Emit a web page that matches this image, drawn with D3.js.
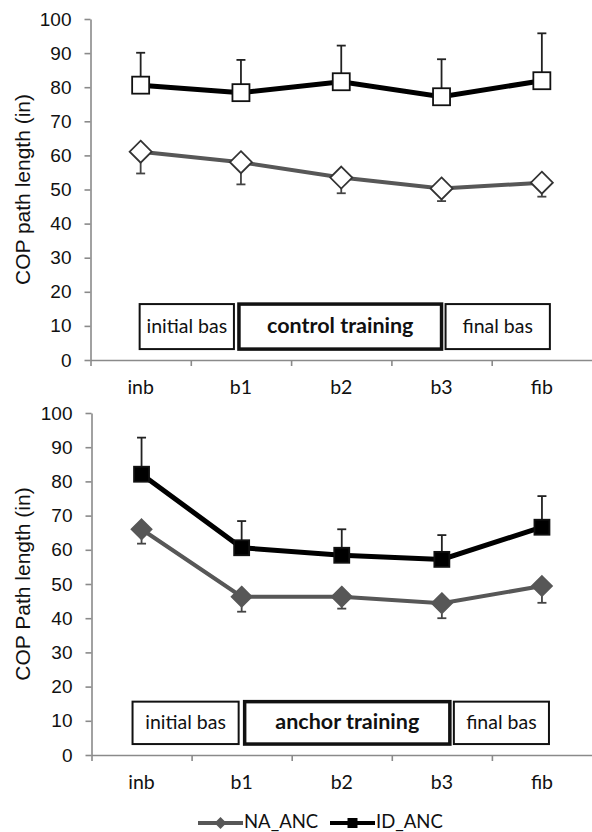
<!DOCTYPE html>
<html>
<head>
<meta charset="utf-8">
<script src="https://cdn.jsdelivr.net/npm/d3@7"></script>
<style>
  html, body { margin: 0; padding: 0; background: #fff; }
  svg { display: block; }
</style>
</head>
<body>
<div id="chart"></div>
<script>
// --- Données
const categories = ["inb", "b1", "b2", "b3", "fib"];
const yTicks = [0, 10, 20, 30, 40, 50, 60, 70, 80, 90, 100];

// panneau du haut : control training
const controlID = [80.6, 78.4, 81.6, 77.2, 81.9];
const controlIDErr = [9.5, 9.6, 10.6, 11.0, 13.9];
const controlNA = [61.1, 58.0, 53.5, 50.3, 52.0];
const controlNAErr = [6.4, 6.5, 4.6, 3.7, 4.1];
const controlPhases = ["initial bas", "control training", "final bas"];

// panneau du bas : anchor training
const anchorID = [82.1, 60.6, 58.4, 57.2, 66.6];
const anchorIDErr = [10.7, 7.8, 7.6, 7.1, 9.1];
const anchorNA = [66.0, 46.3, 46.3, 44.4, 49.4];
const anchorNAErr = [4.2, 4.4, 3.5, 4.4, 4.9];
const anchorPhases = ["initial bas", "anchor training", "final bas"];

const seriesNames = ["NA_ANC", "ID_ANC"];

const W = 592, H = 832;
const labelFont = "Lato, 'Open Sans', sans-serif";
const axisFont = "'Liberation Sans', Arial, sans-serif";
const grayLine = "#575757";

const svg = d3.select("#chart").append("svg")
  .attr("width", W)
  .attr("height", H);

// --- Dessin d'un panneau
function drawPanel(opts) {
  const g = svg.append("g");

  const x = d3.scaleBand().domain(categories).range([opts.left, W]);
  // échelle continue en "unités de catégorie" pour les cadres et graduations
  const xu = d3.scaleLinear().domain([0, categories.length]).range([opts.left, W]);
  const y = d3.scaleLinear().domain([0, 100]).range([opts.bottom, opts.top]);
  const cx = (c) => x(c) + x.bandwidth() / 2;

  // Axe Y
  const yAxis = g.append("g")
    .attr("transform", `translate(${opts.left},0)`)
    .call(d3.axisLeft(y).tickValues(yTicks).tickSize(6).tickPadding(13).tickSizeOuter(0));
  yAxis.select(".domain").attr("stroke", "#8a8a8a").attr("stroke-width", 1.6);
  yAxis.selectAll(".tick line").attr("stroke", "#8a8a8a").attr("stroke-width", 1.6);
  yAxis.selectAll(".tick text")
    .attr("font-family", axisFont)
    .attr("font-size", 19)
    .attr("fill", "#111");

  // Axe X (graduations aux limites des catégories)
  const xAxis = g.append("g")
    .attr("transform", `translate(0,${opts.bottom})`)
    .call(d3.axisBottom(xu).tickValues(d3.range(0, categories.length)).tickSize(6).tickSizeOuter(0).tickFormat(""));
  xAxis.select(".domain").attr("stroke", "#8a8a8a").attr("stroke-width", 1.6);
  xAxis.selectAll(".tick line").attr("stroke", "#8a8a8a").attr("stroke-width", 1.6);

  g.selectAll(".cat")
    .data(categories)
    .join("text")
    .attr("x", cx)
    .attr("y", opts.bottom + 34)
    .attr("text-anchor", "middle")
    .attr("font-family", labelFont)
    .attr("font-size", 19.5)
    .attr("fill", "#111")
    .text((d) => d);

  // Titre de l'axe Y
  g.append("text")
    .attr("transform", `translate(30,${(opts.top + opts.bottom) / 2}) rotate(-90)`)
    .attr("text-anchor", "middle")
    .attr("font-family", axisFont)
    .attr("font-size", 21)
    .attr("fill", "#111")
    .text(opts.title);

  // Cadres des phases
  const boxes = g.selectAll(".phase")
    .data(opts.phases.map((label, i) => ({ label, span: opts.spans[i], bold: i === 1 })))
    .join("g");
  boxes.append("rect")
    .attr("x", (d) => xu(d.span[0]))
    .attr("width", (d) => xu(d.span[1]) - xu(d.span[0]))
    .attr("y", y(opts.boxY[1]))
    .attr("height", y(opts.boxY[0]) - y(opts.boxY[1]))
    .attr("fill", "#fff")
    .attr("stroke", "#111")
    .attr("stroke-width", (d) => (d.bold ? 3.5 : 2));
  boxes.append("text")
    .attr("x", (d) => (xu(d.span[0]) + xu(d.span[1])) / 2)
    .attr("y", (y(opts.boxY[0]) + y(opts.boxY[1])) / 2 + 6.5)
    .attr("text-anchor", "middle")
    .attr("font-family", labelFont)
    .attr("font-size", (d) => (d.bold ? 21.5 : 19.5))
    .attr("font-weight", (d) => (d.bold ? "bold" : "normal"))
    .attr("fill", "#111")
    .text((d) => d.label);

  const line = d3.line().x((d) => cx(d.c)).y((d) => y(d.v));
  const rows = (vals, errs) => categories.map((c, i) => ({ c, v: vals[i], e: errs[i] }));
  const na = rows(opts.na, opts.naErr);
  const id = rows(opts.id, opts.idErr);

  // Barres d'erreur : ID vers le haut, NA vers le bas
  const errBars = (data, dir, color) => {
    const eg = g.append("g").attr("stroke", color).attr("stroke-width", 1.8);
    eg.selectAll("line.v").data(data).join("line")
      .attr("x1", (d) => cx(d.c)).attr("x2", (d) => cx(d.c))
      .attr("y1", (d) => y(d.v)).attr("y2", (d) => y(d.v + dir * d.e));
    eg.selectAll("line.cap").data(data).join("line")
      .attr("x1", (d) => cx(d.c) - 4.5).attr("x2", (d) => cx(d.c) + 4.5)
      .attr("y1", (d) => y(d.v + dir * d.e)).attr("y2", (d) => y(d.v + dir * d.e));
  };
  errBars(id, 1, "#222");
  errBars(na, -1, "#444");

  // Lignes
  g.append("path").datum(na)
    .attr("fill", "none").attr("stroke", grayLine).attr("stroke-width", 4)
    .attr("d", line);
  g.append("path").datum(id)
    .attr("fill", "none").attr("stroke", "#000").attr("stroke-width", 5)
    .attr("d", line);

  // Marqueurs
  const ds = opts.diamond;
  g.selectAll(".dia").data(na).join("path")
    .attr("transform", (d) => `translate(${cx(d.c)},${y(d.v)})`)
    .attr("d", `M0,${-ds}L${ds},0L0,${ds}L${-ds},0Z`)
    .attr("fill", opts.filled ? grayLine : "#fff")
    .attr("stroke", opts.filled ? grayLine : "#333")
    .attr("stroke-width", 1.8);
  const sq = opts.square;
  g.selectAll(".sq").data(id).join("rect")
    .attr("x", (d) => cx(d.c) - sq / 2)
    .attr("y", (d) => y(d.v) - sq / 2)
    .attr("width", sq).attr("height", sq)
    .attr("fill", opts.filled ? "#000" : "#fff")
    .attr("stroke", "#111")
    .attr("stroke-width", 1.8);
}

drawPanel({
  left: 90.5, top: 19, bottom: 360,
  title: "COP path length (in)",
  id: controlID, idErr: controlIDErr, na: controlNA, naErr: controlNAErr,
  phases: controlPhases,
  spans: [[0.49, 1.43], [1.48, 3.5], [3.54, 4.58]],
  boxY: [3.2, 16.4],
  filled: false, diamond: 11, square: 17
});

drawPanel({
  left: 91.5, top: 413, bottom: 755,
  title: "COP Path length (in)",
  id: anchorID, idErr: anchorIDErr, na: anchorNA, naErr: anchorNAErr,
  phases: anchorPhases,
  spans: [[0.41, 1.47], [1.53, 3.58], [3.62, 4.57]],
  boxY: [3.2, 15.6],
  filled: true, diamond: 10, square: 15
});

// --- Légende
const legend = svg.append("g").attr("transform", "translate(0,823)");
const legendItems = [
  { name: seriesNames[0], x: 198, color: grayLine, shape: "diamond" },
  { name: seriesNames[1], x: 330, color: "#000", shape: "square" }
];
const li = legend.selectAll("g").data(legendItems).join("g")
  .attr("transform", (d) => `translate(${d.x},0)`);
li.append("line")
  .attr("x1", 0).attr("x2", 45)
  .attr("stroke", (d) => d.color)
  .attr("stroke-width", 4);
li.append("path")
  .attr("transform", "translate(22.5,0)")
  .attr("d", (d) => d.shape === "diamond" ? "M0,-6L6,0L0,6L-6,0Z" : "M-5,-5H5V5H-5Z")
  .attr("fill", (d) => d.color);
li.append("text")
  .attr("x", 46)
  .attr("y", 4.5)
  .attr("font-family", labelFont)
  .attr("font-size", 18.5)
  .attr("fill", "#111")
  .text((d) => d.name);
</script>
</body>
</html>
